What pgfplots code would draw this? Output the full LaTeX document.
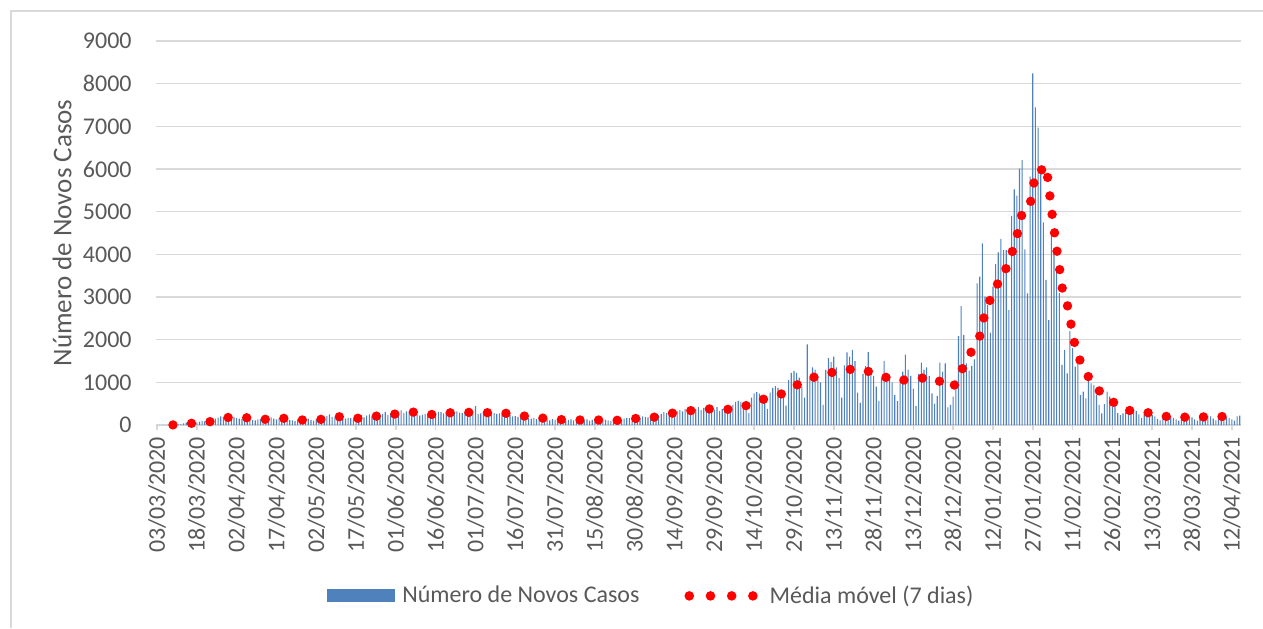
\documentclass[border=0pt]{standalone}
\usepackage{fontspec}
\setmainfont{Carlito}
\usepackage{pgfplots}
\usepackage{pgfplotstable}
\pgfplotsset{compat=1.18}

\definecolor{barblue}{HTML}{4F81BD}
\definecolor{gridgray}{HTML}{D9D9D9}
\definecolor{txtgray}{HTML}{595959}

% daily new cases, 03/03/2020 onwards (one week per line)
\pgfplotstableread[row sep=\\]{
cases\\
0\\0\\1\\2\\3\\4\\6\\
10\\15\\25\\40\\55\\60\\75\\
70\\60\\80\\95\\85\\75\\90\\
130\\150\\175\\200\\190\\210\\200\\
220\\180\\160\\150\\140\\170\\170\\
150\\120\\110\\130\\140\\140\\140\\
160\\180\\150\\130\\170\\160\\150\\
100\\120\\110\\90\\130\\130\\140\\
160\\150\\120\\100\\130\\140\\130\\
180\\210\\250\\190\\180\\200\\160\\
140\\150\\170\\160\\140\\170\\170\\
230\\180\\220\\250\\200\\190\\210\\
240\\260\\300\\230\\270\\250\\260\\
310\\340\\280\\320\\290\\300\\295\\
250\\220\\240\\260\\230\\250\\250\\
280\\310\\300\\270\\290\\280\\300\\
300\\320\\290\\280\\300\\310\\280\\
260\\440\\260\\270\\280\\240\\265\\
300\\280\\260\\270\\250\\290\\270\\
230\\200\\210\\190\\180\\210\\210\\
160\\150\\170\\140\\160\\150\\170\\
130\\110\\140\\120\\110\\130\\130\\
100\\120\\130\\110\\120\\120\\120\\
110\\130\\100\\120\\130\\110\\120\\
100\\120\\110\\90\\110\\120\\120\\
130\\150\\170\\160\\150\\180\\160\\
170\\200\\190\\180\\200\\180\\190\\
230\\260\\300\\280\\310\\320\\320\\
330\\350\\320\\370\\340\\360\\340\\
380\\420\\350\\400\\370\\380\\370\\
360\\420\\330\\380\\350\\390\\330\\
470\\540\\565\\540\\495\\400\\280\\
640\\740\\770\\735\\670\\545\\380\\
760\\870\\910\\870\\795\\640\\455\\
1060\\1220\\1270\\1220\\1110\\900\\640\\
1890\\1100\\1350\\1300\\1150\\1000\\470\\
1290\\1570\\1480\\1600\\1350\\1100\\640\\
1400\\1700\\1600\\1760\\1500\\760\\520\\
1200\\1380\\1711\\1300\\1150\\900\\565\\
1100\\1500\\1200\\1150\\1000\\700\\560\\
1050\\1250\\1650\\1300\\1150\\850\\450\\
1200\\1460\\1300\\1350\\1150\\740\\500\\
680\\1461\\1250\\1445\\414\\469\\664\\
1055\\2086\\2789\\2110\\1445\\1273\\1383\\
1540\\3320\\3476\\4258\\3007\\2812\\2164\\
3242\\3773\\4047\\4360\\4100\\4100\\2700\\
4900\\5525\\5375\\6008\\6211\\4118\\3086\\
5820\\8242\\7445\\6969\\5977\\4750\\3400\\
2460\\4490\\4140\\3630\\3090\\1410\\1760\\
1210\\2200\\1800\\1367\\1445\\703\\781\\
625\\1133\\977\\937\\703\\469\\274\\
492\\781\\664\\430\\492\\281\\234\\
274\\300\\420\\380\\360\\330\\250\\
160\\260\\280\\260\\240\\200\\140\\
110\\210\\250\\230\\200\\170\\130\\
100\\210\\240\\220\\200\\180\\130\\
100\\230\\260\\250\\220\\200\\150\\
110\\240\\230\\210\\190\\170\\130\\
100\\200\\220\\
}\casestable

\begin{document}
\begin{tikzpicture}
\useasboundingbox (0,0) rectangle (631.5pt,314pt);
\draw[gridgray, line width=0.7pt] (5.5pt,0) -- (5.5pt,308.5pt) -- (631.5pt,308.5pt);

\begin{axis}[
    at={(77.85pt,101.5pt)}, anchor=south west,
    scale only axis,
    width=542.7pt, height=192pt,
    xmin=-0.5, xmax=408.5,
    ymin=0, ymax=9000,
    clip=false,
    separate axis lines,
    axis x line*=bottom,
    axis y line*=left,
    every outer x axis line/.append style={gridgray, line width=0.75pt},
    every outer y axis line/.append style={draw=none},
    ytick={0,1000,...,9000},
    ymajorgrids=true,
    grid style={gridgray, line width=0.75pt},
    ytick style={draw=none},
    xtick={0,15,...,405},
    xticklabels={03/03/2020,18/03/2020,02/04/2020,17/04/2020,02/05/2020,17/05/2020,
      01/06/2020,16/06/2020,01/07/2020,16/07/2020,31/07/2020,15/08/2020,30/08/2020,
      14/09/2020,29/09/2020,14/10/2020,29/10/2020,13/11/2020,28/11/2020,13/12/2020,
      28/12/2020,12/01/2021,27/01/2021,11/02/2021,26/02/2021,13/03/2021,28/03/2021,12/04/2021},
    xtick style={gridgray, line width=0.75pt},
    tick align=outside,
    major tick length=2.5pt,
    xtick pos=lower,
    /pgf/number format/assume math mode=true,
    /pgf/number format/set thousands separator={},
    tick label style={text=txtgray, font=\fontsize{12}{14}\selectfont},
    xticklabel style={rotate=90, anchor=east, xshift=0pt},
    yticklabel style={xshift=-6pt},
    ylabel={Número de Novos Casos},
    ylabel style={at={(axis description cs:-0.0863,0.5)}, anchor=center,
      text=txtgray, font=\fontsize{13.5}{16}\selectfont},
    legend columns=2,
    legend style={at={(axis description cs:0.1578,-0.445)}, anchor=west,
      draw=none, fill=none, inner sep=0pt,
      font=\fontsize{12}{14}\selectfont, text=txtgray,
      /tikz/every even column/.append style={column sep=20.5pt}},
]

\addplot[ybar, bar width=0.42, fill=barblue, draw=none,
    legend image code/.code={\fill[barblue] (0pt,-3.3pt) rectangle (34pt,3.3pt);
      \path (35.5pt,0pt);}]
    table[x expr=\coordindex, y=cases] {\casestable};
\addlegendentry{Número de Novos Casos}

\addplot[red, no markers, line width=4.7pt, line cap=round, line join=round,
    dash pattern=on 0pt off 9.3pt,
    legend image code/.code={
      \path[solid, draw=none, fill=red]
        (2.4pt,0pt) circle[radius=2.4pt]
        (13pt,0pt) circle[radius=2.4pt]
        (23.6pt,0pt) circle[radius=2.4pt]
        (34.2pt,0pt) circle[radius=2.4pt];
      \path (38.2pt,0pt);}]
    coordinates {
    (6,2) (13,40) (20,79) (27,179) (34,170) (41,133) (48,157) (55,117) (62,133)
    (69,196) (76,157) (83,211) (90,259) (97,305) (104,243) (111,290) (118,297)
    (125,288) (132,274) (139,204) (146,157) (153,124) (160,117) (167,117) (174,110)
    (181,157) (188,187) (195,289) (202,344) (209,381) (216,366) (223,470) (230,640)
    (237,757) (244,1060) (251,1180) (258,1290) (265,1320) (272,1172) (279,1030)
    (286,1100) (293,1100) (294,1026) (295,1026) (296,1019) (297,1032) (298,927)
    (299,888) (300,912) (301,965) (302,1055) (303,1275) (304,1370) (305,1517)
    (306,1632) (307,1734) (308,1804) (309,1980) (310,2078) (311,2385) (312,2608)
    (313,2828) (314,2940) (315,3183) (316,3247) (317,3329) (318,3344) (319,3500)
    (320,3684) (321,3760) (322,3997) (323,4247) (324,4437) (325,4673) (326,4974)
    (327,4977) (328,5032) (329,5163) (330,5551) (331,5847) (332,5984) (333,5951)
    (334,6041) (335,6086) (336,5606) (337,5070) (338,4598) (339,4121) (340,3709)
    (341,3231) (342,2997) (343,2819) (344,2491) (345,2157) (346,1834) (347,1599)
    (348,1498) (349,1358) (350,1274) (351,1122) (352,1004) (353,943) (354,837)
    (355,804) (356,731) (357,712) (358,662) (359,617) (360,545) (361,515)
    (362,488) (363,482) (364,451) (365,382) (366,344) (372,309) (379,206)
    (386,184) (393,186) (400,204) (407,176) (408,174)
    };
\addlegendentry{Média móvel (7 dias)}

\end{axis}
\end{tikzpicture}
\end{document}
